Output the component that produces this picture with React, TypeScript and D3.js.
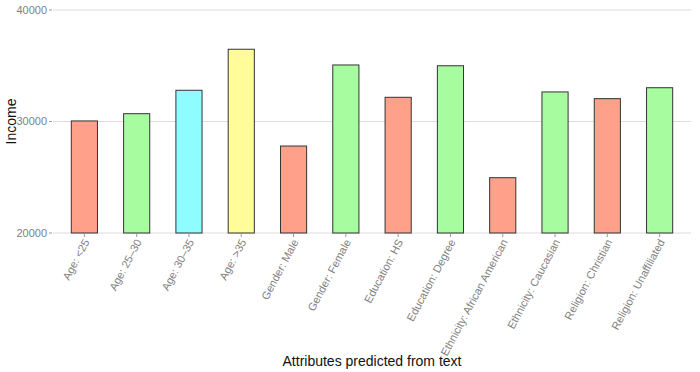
import React, { useEffect, useRef } from 'react';
import * as d3 from 'd3';

const categories = [
  'Age: <25', 'Age: 25–30', 'Age: 30–35', 'Age: >35',
  'Gender: Male', 'Gender: Female', 'Education: HS', 'Education: Degree',
  'Ethnicity: African American', 'Ethnicity: Caucasian', 'Religion: Christian', 'Religion: Unaffiliated',
];
const incomes = [30050, 30700, 32800, 36480, 27800, 35070, 32170, 35000, 24960, 32650, 32050, 33030];
const groups = ['low', 'high', 'cyan', 'yellow', 'low', 'high', 'low', 'high', 'low', 'high', 'low', 'high'];
const yTicks = [20000, 30000, 40000];

const colorOf: Record<string, string> = {
  low: '#FFA08A',
  high: '#A8FCA0',
  cyan: '#8FFCFF',
  yellow: '#FFFC99',
};

const W = 700;
const H = 372;

export default function App() {
  const svgRef = useRef<SVGSVGElement>(null);

  useEffect(() => {
    if (!svgRef.current) return;
    const svg = d3.select(svgRef.current);
    svg.selectAll('*').remove();

    const left = 53, right = 691, top = 10, bottom = 233;

    const x = d3.scaleBand<string>()
      .domain(categories)
      .range([left, right])
      .paddingInner(0.5)
      .paddingOuter(0.35);

    const y = d3.scaleLinear().domain([20000, 40000]).range([bottom, top]);

    const font = 'Liberation Sans, Arial, Helvetica, sans-serif';

    // grid
    svg.append('g')
      .selectAll('line')
      .data(yTicks)
      .enter()
      .append('line')
      .attr('x1', left)
      .attr('x2', right)
      .attr('y1', (d: number) => y(d))
      .attr('y2', (d: number) => y(d))
      .attr('stroke', '#DCDCDC')
      .attr('stroke-width', 1);

    // y ticks + labels
    const yg = svg.append('g');
    yg.selectAll('line')
      .data(yTicks)
      .enter()
      .append('line')
      .attr('x1', left - 4)
      .attr('x2', left - 1)
      .attr('y1', (d: number) => y(d))
      .attr('y2', (d: number) => y(d))
      .attr('stroke', '#999');
    yg.selectAll('text')
      .data(yTicks)
      .enter()
      .append('text')
      .attr('x', left - 6)
      .attr('y', (d: number) => y(d))
      .attr('dy', '0.35em')
      .attr('text-anchor', 'end')
      .attr('font-family', font)
      .attr('font-size', '11px')
      .attr('fill', '#808080')
      .text((d: number) => String(d));

    // bars
    svg.append('g')
      .selectAll('rect')
      .data(categories)
      .enter()
      .append('rect')
      .attr('x', (d: string) => x(d) as number)
      .attr('width', x.bandwidth())
      .attr('y', (_: string, i: number) => y(incomes[i]))
      .attr('height', (_: string, i: number) => bottom - y(incomes[i]))
      .attr('fill', (_: string, i: number) => colorOf[groups[i]])
      .attr('stroke', '#333')
      .attr('stroke-width', 1);

    // x ticks + rotated labels
    const xg = svg.append('g');
    xg.selectAll('line')
      .data(categories)
      .enter()
      .append('line')
      .attr('x1', (d: string) => (x(d) as number) + x.bandwidth() / 2)
      .attr('x2', (d: string) => (x(d) as number) + x.bandwidth() / 2)
      .attr('y1', bottom + 1)
      .attr('y2', bottom + 4)
      .attr('stroke', '#999');
    xg.selectAll('text')
      .data(categories)
      .enter()
      .append('text')
      .attr('transform', (d: string) =>
        `translate(${(x(d) as number) + x.bandwidth() / 2 + 2},${bottom + 7}) rotate(-62)`)
      .attr('dy', '0.35em')
      .attr('text-anchor', 'end')
      .attr('font-family', font)
      .attr('font-size', '11px')
      .attr('fill', '#808080')
      .text((d: string) => d);

    // axis titles
    svg.append('text')
      .attr('x', (left + right) / 2)
      .attr('y', 366)
      .attr('text-anchor', 'middle')
      .attr('font-family', font)
      .attr('font-size', '14px')
      .attr('fill', '#111')
      .text('Attributes predicted from text');

    svg.append('text')
      .attr('transform', `translate(16,${(top + bottom) / 2}) rotate(-90)`)
      .attr('text-anchor', 'middle')
      .attr('font-family', font)
      .attr('font-size', '14px')
      .attr('fill', '#111')
      .text('Income');
  }, []);

  return (
    <svg
      ref={svgRef}
      width={W}
      height={H}
      style={{ position: 'absolute', left: 0, top: 0, background: '#fff', display: 'block' }}
    />
  );
}
